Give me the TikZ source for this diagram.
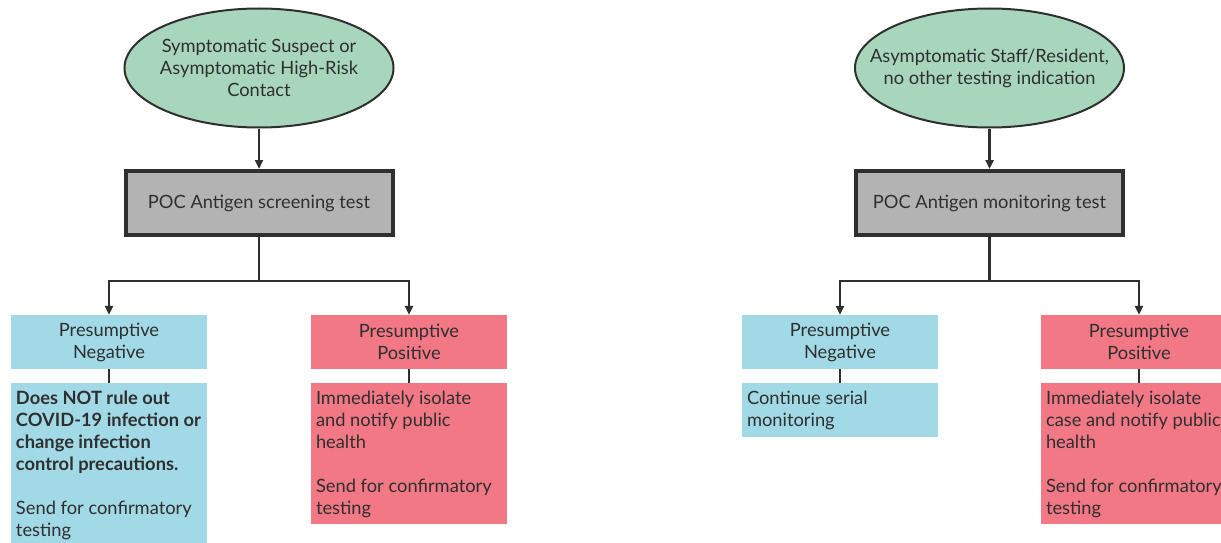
\documentclass[tikz,border=0pt]{standalone}
\usepackage{fontspec}
\setmainfont{Lato}
\usetikzlibrary{shapes.geometric,arrows.meta}
\definecolor{ellgreen}{HTML}{A8D6BC}
\definecolor{boxgray}{HTML}{B3B3B3}
\definecolor{negblue}{HTML}{A2D9E7}
\definecolor{pospink}{HTML}{F37886}
\definecolor{ink}{HTML}{2F2F2F}
\tikzset{
  every node/.style={font=\fontsize{18.3}{22}\selectfont, text=ink},
  startell/.style={ellipse, draw=ink, line width=2pt, fill=ellgreen, minimum width=269pt, minimum height=119pt, inner sep=0pt},
  elltext/.style={inner sep=0pt, align=center},
  testbox/.style={rectangle, draw=ink, line width=4pt, fill=boxgray, minimum width=267pt, minimum height=64pt, inner sep=0pt},
  hdrbox/.style={rectangle, minimum width=196pt, minimum height=54pt, inner sep=0pt, align=center},
  bodybox/.style={rectangle, minimum width=196pt, inner sep=0pt},
  bodytext/.style={anchor=north west, inner sep=0pt, align=left},
  conn/.style={draw=ink, line width=2.8pt},
  arr/.style={conn, -{Triangle[length=9pt,width=8pt]}},
}
\begin{document}
\begin{tikzpicture}[x=1pt,y=-1pt]
\useasboundingbox (0,0) rectangle (1221,543);
\clip (0,0) rectangle (1221,543);
% ---------- left ----------
\node[startell] (ell1) at (259,68) {};
\node[elltext] (ellt1) at (ell1.center) {Symptomatic Suspect or\\Asymptomatic High-Risk\\Contact};
\node[testbox] (box1) at (259,203) {POC Antigen screening test};
\coordinate (j1) at (259,281);
\node[hdrbox, fill=negblue] (negh1) at (109,342) {Presumptive\\Negative};
\node[hdrbox, fill=pospink] (posh1) at (409,342) {Presumptive\\Positive};
\node[bodybox, fill=negblue, minimum height=180pt, anchor=north] (negb1) at (109,383) {};
\node[bodybox, fill=pospink, minimum height=141pt, anchor=north] (posb1) at (409,383) {};
\node[bodytext] (negt1) at ([xshift=5pt,yshift=-8pt]negb1.north west) {\textbf{Does NOT rule out}\\\textbf{COVID-19 infection or}\\\textbf{change infection}\\\textbf{control precautions.}\\[22pt]Send for confirmatory\\testing};
\node[bodytext] (post1) at ([xshift=5pt,yshift=-8pt]posb1.north west) {Immediately isolate\\and notify public\\health\\[22pt]Send for confirmatory\\testing};
\draw[arr] (ell1.south) -- (box1.north);
\draw[conn] (box1.south) -- (j1);
\draw[arr] (j1) -| (negh1.north);
\draw[arr] (j1) -| (posh1.north);
\draw[conn] (negh1.south) -- (negb1.north);
\draw[conn] (posh1.south) -- (posb1.north);
% ---------- right ----------
\node[startell] (ell2) at (989.5,68) {};
\node[elltext] (ellt2) at (ell2.center) {Asymptomatic Staff/Resident,\\no other testing indication};
\node[testbox] (box2) at (989.5,203) {POC Antigen monitoring test};
\coordinate (j2) at (989.5,281);
\node[hdrbox, fill=negblue] (negh2) at (840,342) {Presumptive\\Negative};
\node[hdrbox, fill=pospink] (posh2) at (1139,342) {Presumptive\\Positive};
\node[bodybox, fill=negblue, minimum height=54pt, anchor=north] (negb2) at (840,383) {};
\node[bodybox, fill=pospink, minimum height=141pt, anchor=north] (posb2) at (1139,383) {};
\node[bodytext] (negt2) at ([xshift=5pt,yshift=-8pt]negb2.north west) {Continue serial\\monitoring};
\node[bodytext] (post2) at ([xshift=5pt,yshift=-8pt]posb2.north west) {Immediately isolate\\case and notify public\\health\\[22pt]Send for confirmatory\\testing};
\draw[arr] (ell2.south) -- (box2.north);
\draw[conn] (box2.south) -- (j2);
\draw[arr] (j2) -| (negh2.north);
\draw[arr] (j2) -| (posh2.north);
\draw[conn] (negh2.south) -- (negb2.north);
\draw[conn] (posh2.south) -- (posb2.north);
\end{tikzpicture}
\end{document}
